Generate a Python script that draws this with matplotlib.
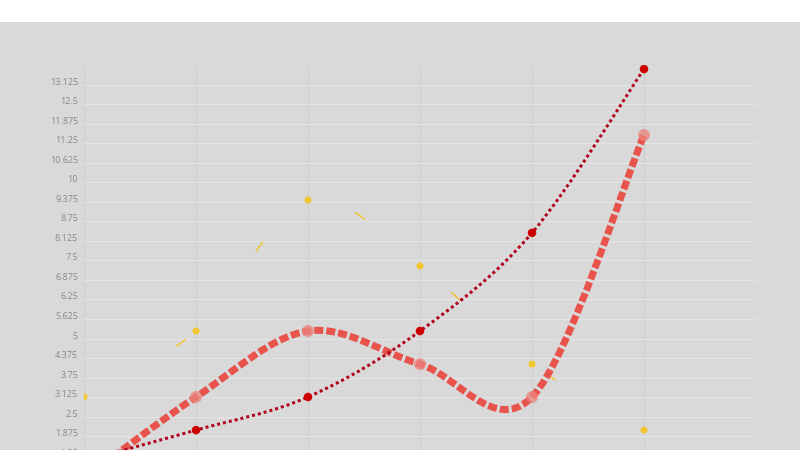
import matplotlib
matplotlib.use("Agg")
import matplotlib.pyplot as plt
from matplotlib.path import Path
from matplotlib.patches import PathPatch, Rectangle
import numpy as np

plt.rcParams['lines.scale_dashes'] = False
plt.rcParams['font.family'] = ['Open Sans', 'DejaVu Sans']

# ---- data ----
categories = [0, 1, 2, 3, 4, 5]
series_dark = [1.09, 2.07, 3.13, 5.24, 8.38, 13.62]
series_light = [0.52, 3.13, 5.24, 4.18, 3.13, 11.51]
series_yellow = [3.13, 5.24, 9.43, 7.32, 4.18, 2.07]
y_ticks = [0.625 * i for i in range(22)]
y_tick_labels = ['{:g}'.format(v) for v in y_ticks]

W, H, DPI = 800, 450, 100
fig = plt.figure(figsize=(W / DPI, H / DPI), dpi=DPI, facecolor='white')
BG = '#d9d9d9'
fig.add_artist(Rectangle((0, 0), 1, (H - 22) / H, transform=fig.transFigure,
                         facecolor=BG, edgecolor='none', zorder=-10))

# axes geometry (pixels)
left_px, right_px = 84, 756
top_px = 65
ymax = 13.75
px_per_unit = 31.26
bottom_px = top_px + ymax * px_per_unit
ax = fig.add_axes([left_px / W, 1 - bottom_px / H,
                   (right_px - left_px) / W, (bottom_px - top_px) / H])
ax.set_facecolor('none')
ax.set_xlim(0, 6)
ax.set_ylim(0, ymax)
for s in ax.spines.values():
    s.set_visible(False)

ax.set_yticks(y_ticks)
ax.set_yticklabels(y_tick_labels)
ax.set_xticks(categories)
ax.tick_params(axis='both', length=0)
ax.tick_params(axis='y', labelsize=6.5, labelcolor='#8a8a8a', pad=4.3)
ax.tick_params(axis='x', labelbottom=False)
for t in ax.get_yticklabels():
    t.set_va('baseline')
ax.grid(axis='y', color='#e4e4e4', linewidth=0.8, zorder=0)
ax.grid(axis='x', color='#cdcdcd', linewidth=0.8, zorder=0)
ax.set_axisbelow(True)


def catmull_rom_path(xs, ys):
    """Uniform Catmull-Rom spline through the points, as cubic Bezier segments."""
    p = np.column_stack([xs, ys]).astype(float)
    n = len(p)
    m = np.zeros_like(p)
    m[0] = (p[1] - p[0]) / 2
    m[-1] = (p[-1] - p[-2]) / 2
    for i in range(1, n - 1):
        m[i] = (p[i + 1] - p[i - 1]) / 2
    verts = [p[0]]
    codes = [Path.MOVETO]
    for i in range(n - 1):
        verts += [p[i] + m[i] / 3, p[i + 1] - m[i + 1] / 3, p[i + 1]]
        codes += [Path.CURVE4] * 3
    return Path(np.array(verts), codes)


px2pt = 72.0 / DPI

# yellow line (long-gap dashes)
ax.add_patch(PathPatch(catmull_rom_path(categories, series_yellow), facecolor='none',
                       edgecolor='#f0c435', linewidth=1.5 * px2pt,
                       linestyle=(20 * px2pt, (12 * px2pt, 113 * px2pt)), zorder=2))
ax.scatter(categories, series_yellow, s=(7 * px2pt) ** 2, color='#f2c531',
           edgecolors='none', zorder=2.5)

# thick light red dashed line
ax.add_patch(PathPatch(catmull_rom_path(categories, series_light), facecolor='none',
                       edgecolor='#e8544c', linewidth=7 * px2pt,
                       linestyle=(0, (9 * px2pt, 3 * px2pt)), zorder=3))
ax.scatter(categories, series_light, s=(12 * px2pt) ** 2, color='#ec837e',
           alpha=0.75, edgecolors='none', zorder=3.5)

# dark red dotted line
ax.add_patch(PathPatch(catmull_rom_path(categories, series_dark), facecolor='none',
                       edgecolor='#b0001c', linewidth=3 * px2pt,
                       linestyle=(0, (3 * px2pt, 3 * px2pt)), zorder=4))
ax.scatter(categories, series_dark, s=(8.5 * px2pt) ** 2, color='#cc0000',
           edgecolors='none', zorder=4.5)

fig.savefig('out.png', dpi=DPI, facecolor=fig.get_facecolor())
